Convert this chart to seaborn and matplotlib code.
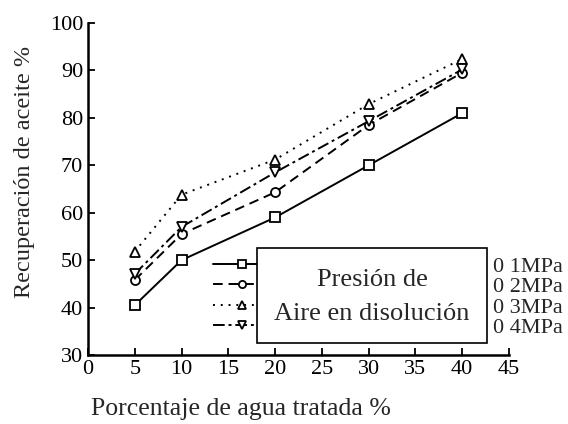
import matplotlib
matplotlib.use("Agg")
import matplotlib.pyplot as plt
from matplotlib.patches import Rectangle
import seaborn as sns
import pandas as pd

# Water treated (%) and oil recovery (%) for each dissolved-air pressure
water_pct = [5, 10, 20, 30, 40]
rec_01 = [40.5, 50.0, 59.0, 70.0, 81.0]
rec_02 = [45.8, 55.5, 64.3, 78.5, 89.5]
rec_03 = [51.8, 63.8, 71.2, 82.9, 92.4]
rec_04 = [47.1, 57.0, 68.5, 79.3, 90.2]
series_labels = ["0 1MPa", "0 2MPa", "0 3MPa", "0 4MPa"]

x_ticks = [0, 5, 10, 15, 20, 25, 30, 35, 40, 45]
y_ticks = [30, 40, 50, 60, 70, 80, 90, 100]

df = pd.DataFrame({
    "x": water_pct * 4,
    "y": rec_01 + rec_02 + rec_03 + rec_04,
    "p": [lab for lab in series_labels for _ in water_pct],
})

sns.set_style("ticks")
plt.rcParams["font.family"] = ["Liberation Serif", "DejaVu Serif"]
plt.rcParams["xtick.direction"] = "in"
plt.rcParams["ytick.direction"] = "in"

fig = plt.figure(figsize=(5.68, 4.24), dpi=100)
ax = fig.add_axes([88 / 568, 1 - 355 / 424, (509 - 88) / 568, (355 - 23) / 424])

markers = {series_labels[0]: "s", series_labels[1]: "o",
           series_labels[2]: "^", series_labels[3]: "v"}
dashes = {series_labels[0]: "",
          series_labels[1]: (5, 3),
          series_labels[2]: (1, 3),
          series_labels[3]: (6, 2, 1.5, 2)}

sns.lineplot(data=df, x="x", y="y", hue="p", style="p",
             palette=["black"] * 4, markers=markers, dashes=dashes,
             markersize=6.5, markerfacecolor="white", markeredgecolor="black",
             markeredgewidth=1.3, linewidth=1.4, legend=False, ax=ax)

ax.set_xlim(0, 45)
ax.set_ylim(30, 100)
ax.set_xticks(x_ticks)
ax.set_yticks(y_ticks)
ax.tick_params(labelsize=16, length=5, width=1.3, colors="black")
for s in ["left", "bottom"]:
    ax.spines[s].set_linewidth(1.8)
    ax.spines[s].set_color("black")
sns.despine(ax=ax)

ax.set_xlabel("Porcentaje de agua tratada %", fontsize=18.5)
ax.set_ylabel("Recuperación de aceite %", fontsize=17.5)
ax.xaxis.set_label_coords(0.363, -0.13)
ax.yaxis.set_label_coords(-0.126, 0.551)

# Legend: keys on the left, pressures on the right, boxed caption in between
lines = ax.get_lines()[:4]
leg = ax.legend(lines, series_labels, loc="upper left",
                bbox_to_anchor=(213 / 568, 1 - 256 / 424),
                bbox_transform=fig.transFigure, frameon=False,
                fontsize=16, handlelength=2.6, handletextpad=10.0,
                labelspacing=0.0, borderpad=0, borderaxespad=0,
                markerscale=0.8)

box = Rectangle((257 / 568, 1 - 343 / 424), (487 - 257) / 568, (343 - 248) / 424,
                transform=fig.transFigure, facecolor="white",
                edgecolor="black", linewidth=1.2, zorder=10)
fig.add_artist(box)
fig.text(372 / 568, 1 - 280 / 424, "Presión de", ha="center", va="center",
         fontsize=19, zorder=11)
fig.text(372 / 568, 1 - 314 / 424, "Aire en disolución", ha="center",
         va="center", fontsize=19, zorder=11)

fig.savefig("out.png", dpi=100)
